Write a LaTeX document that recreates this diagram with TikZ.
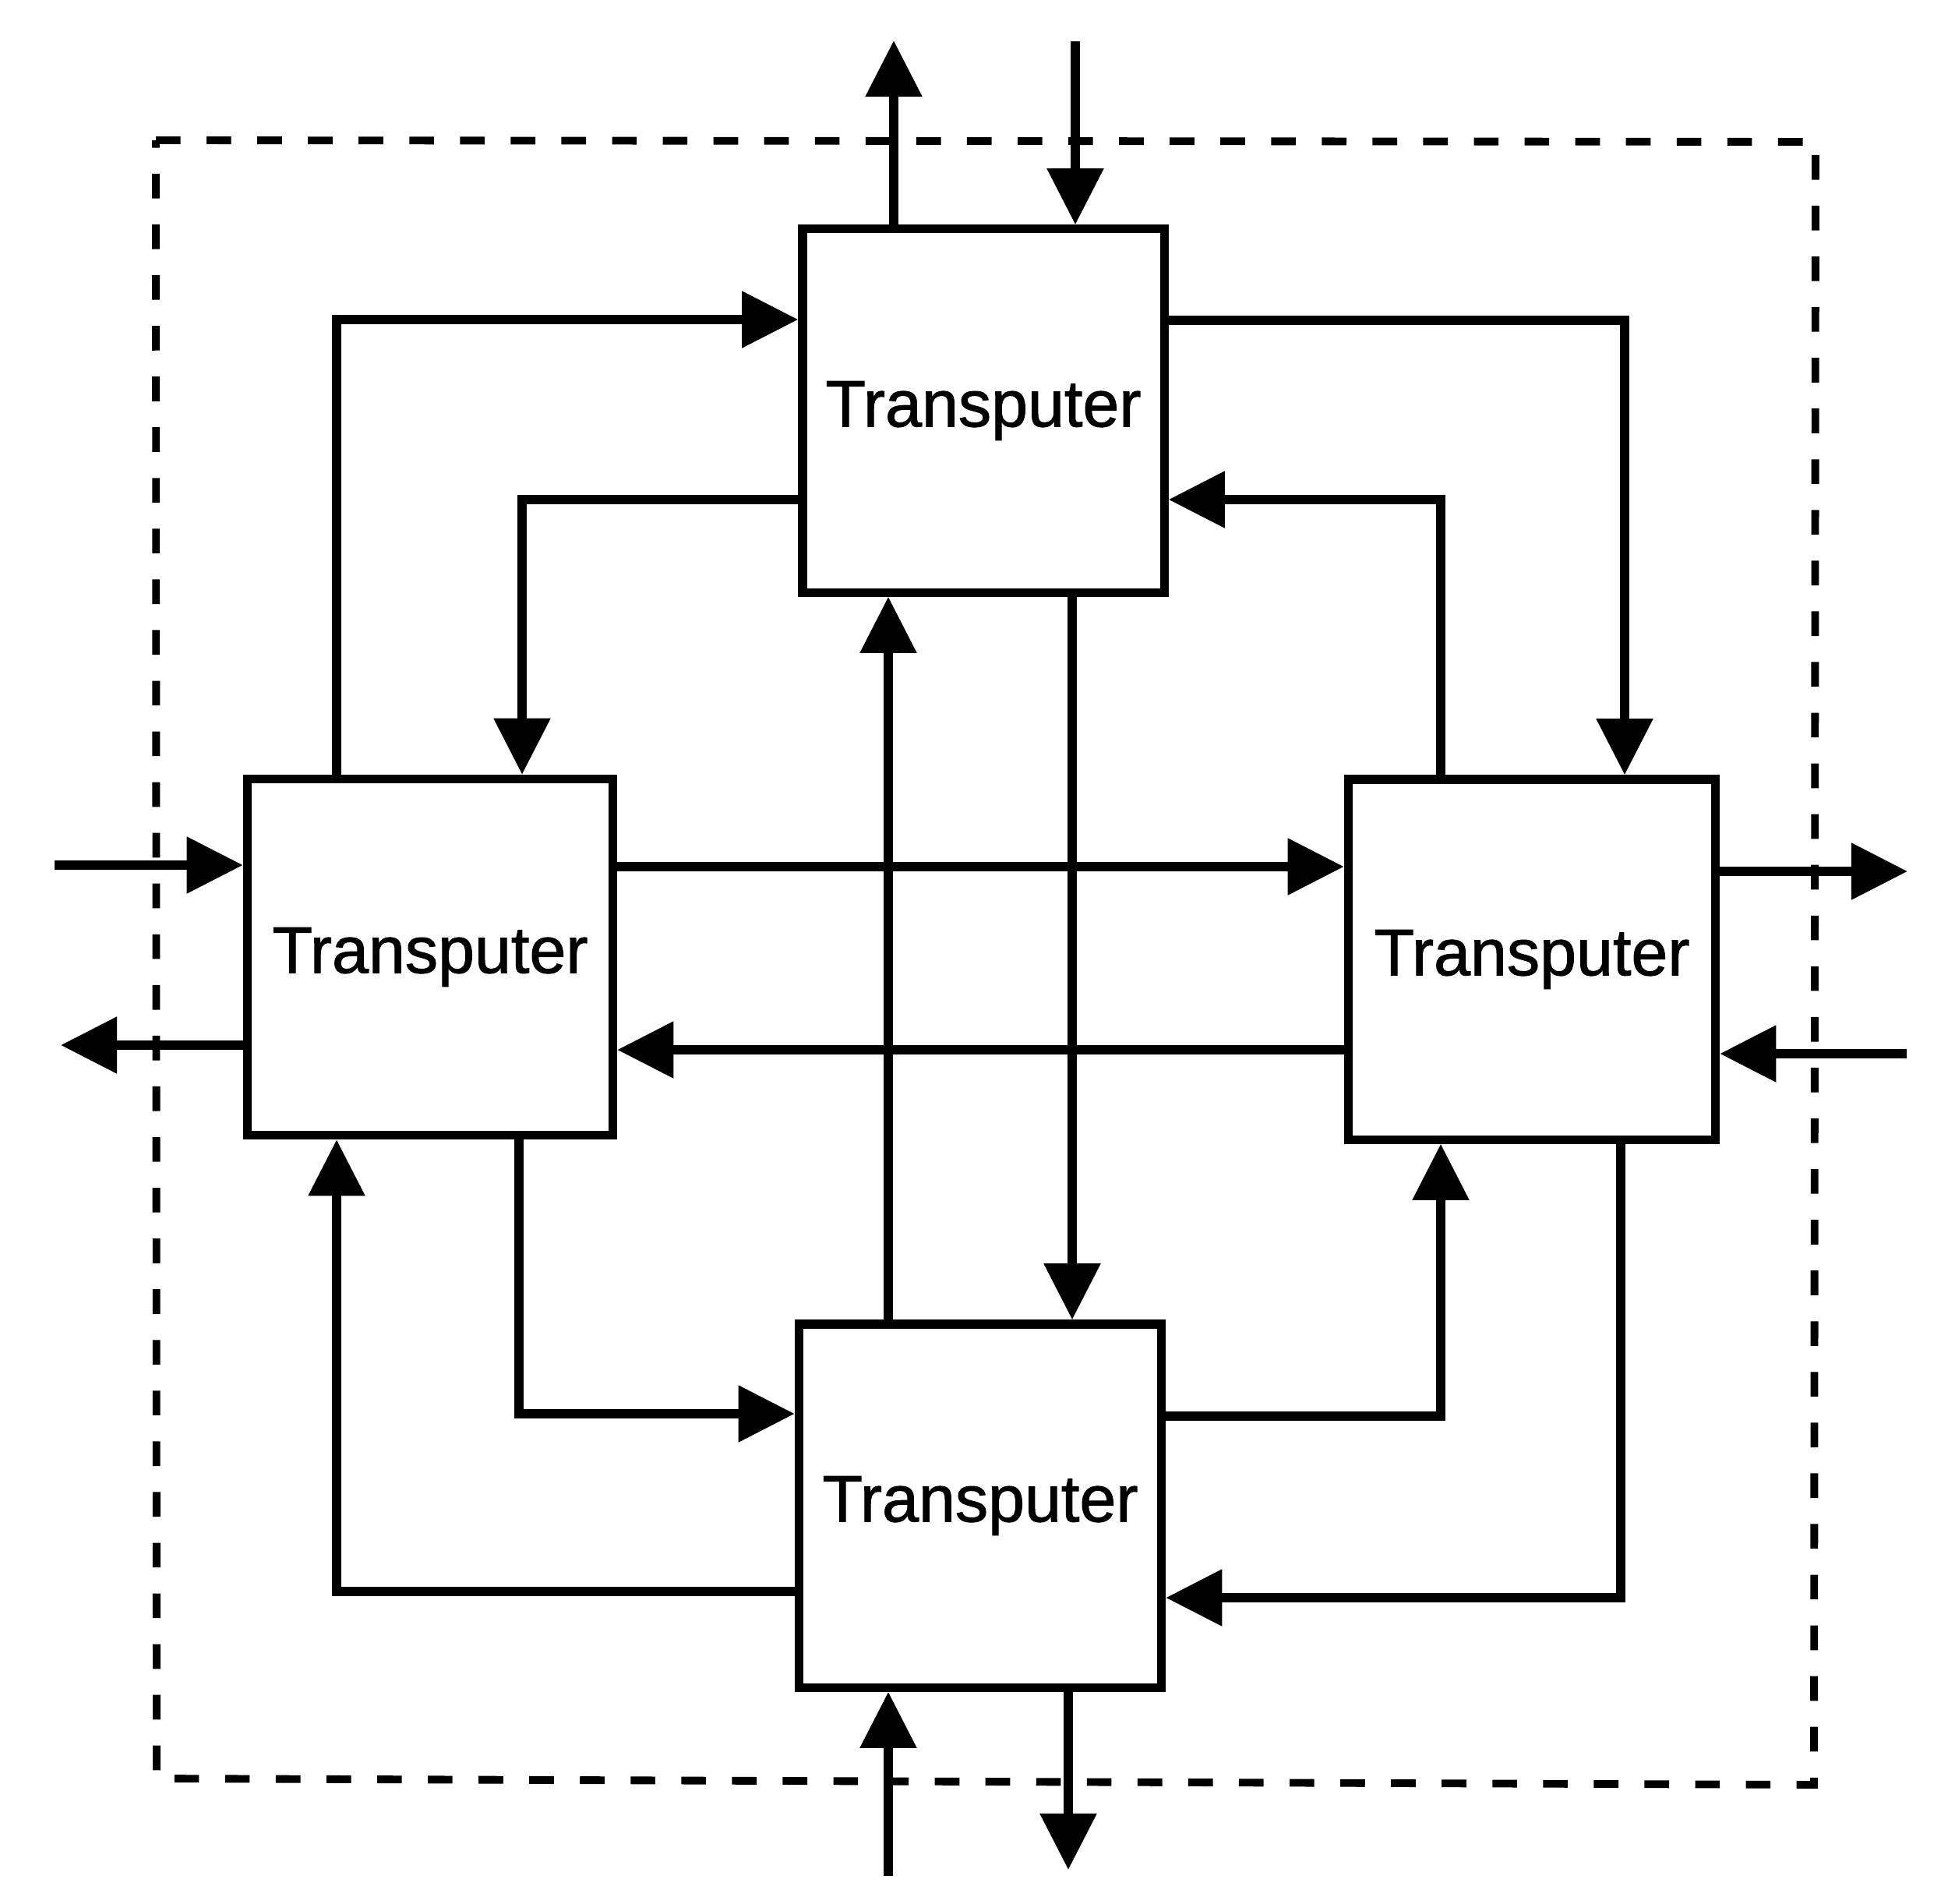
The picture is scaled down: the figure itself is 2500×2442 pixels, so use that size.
\documentclass[tikz,border=0pt]{standalone}
\usepackage{fontspec}
\setmainfont{Liberation Sans}
\font\tputfont="Liberation Sans:embolden=1.2" at 24pt
\usetikzlibrary{arrows.meta}
\begin{document}
\begin{tikzpicture}[x=0.01cm,y=-0.01cm,
  tbox/.style={draw,line width=3.2pt,rectangle,inner sep=0pt,
    font=\tputfont},
  conn/.style={line width=3.2pt,-{Triangle[length=20.5pt,width=20pt]}},
  frame/.style={line width=2.8pt,dash pattern=on 9pt off 9.5pt}]
\useasboundingbox (0,0) rectangle (2500,2442);
% dashed enclosure
\draw[frame] (200,180) -- (2330,182) -- (2328,2290) -- (201,2282) -- cycle;
% transputers
\node[tbox,minimum width=4.64cm,minimum height=4.66cm] (T) at (1262,527) {Transputer};
\node[tbox,minimum width=4.69cm,minimum height=4.57cm] (L) at (552,1228) {Transputer};
\node[tbox,minimum width=4.71cm,minimum height=4.62cm] (R) at (1966,1231) {Transputer};
\node[tbox,minimum width=4.65cm,minimum height=4.66cm] (B) at (1258,1932) {Transputer};
% bend / offset coordinates
\coordinate (a1) at (432,410);
\coordinate (a2) at (670,641);
\coordinate (a3) at (2085,411);
\coordinate (a4) at (1849,641);
\coordinate (a5) at (1140,0);
\coordinate (a6) at (1376,0);
\coordinate (a7) at (0,1112);
\coordinate (a8) at (0,1347);
\coordinate (a9) at (666,1814);
\coordinate (a10) at (432,2042);
\coordinate (a11) at (1849,1817);
\coordinate (a12) at (2080,2050);
% free ends of external links
\coordinate (e1) at (70,1110);
\coordinate (e2) at (78,1341);
\coordinate (e3) at (2448,1118);
\coordinate (e4) at (2447,1352);
\coordinate (e5) at (1147,52);
\coordinate (e6) at (1380,53);
\coordinate (e7) at (1140,2407);
\coordinate (e8) at (1371,2399);
% internal links
\draw[conn] (L.north -| a1) |- (T.west |- a1);
\draw[conn] (T.west |- a2) -| (L.north -| a2);
\draw[conn] (T.east |- a3) -| (R.north -| a3);
\draw[conn] (R.north -| a4) |- (T.east |- a4);
\draw[conn] (B.north -| a5) -- (T.south -| a5);
\draw[conn] (T.south -| a6) -- (B.north -| a6);
\draw[conn] (L.east |- a7) -- (R.west |- a7);
\draw[conn] (R.west |- a8) -- (L.east |- a8);
\draw[conn] (L.south -| a9) |- (B.west |- a9);
\draw[conn] (B.west |- a10) -| (L.south -| a10);
\draw[conn] (B.east |- a11) -| (R.south -| a11);
\draw[conn] (R.south -| a12) |- (B.east |- a12);
% external links
\draw[conn] (e1) -- (L.west |- e1);
\draw[conn] (L.west |- e2) -- (e2);
\draw[conn] (R.east |- e3) -- (e3);
\draw[conn] (e4) -- (R.east |- e4);
\draw[conn] (T.north -| e5) -- (e5);
\draw[conn] (e6) -- (T.north -| e6);
\draw[conn] (e7) -- (B.south -| e7);
\draw[conn] (B.south -| e8) -- (e8);
\end{tikzpicture}
\end{document}
